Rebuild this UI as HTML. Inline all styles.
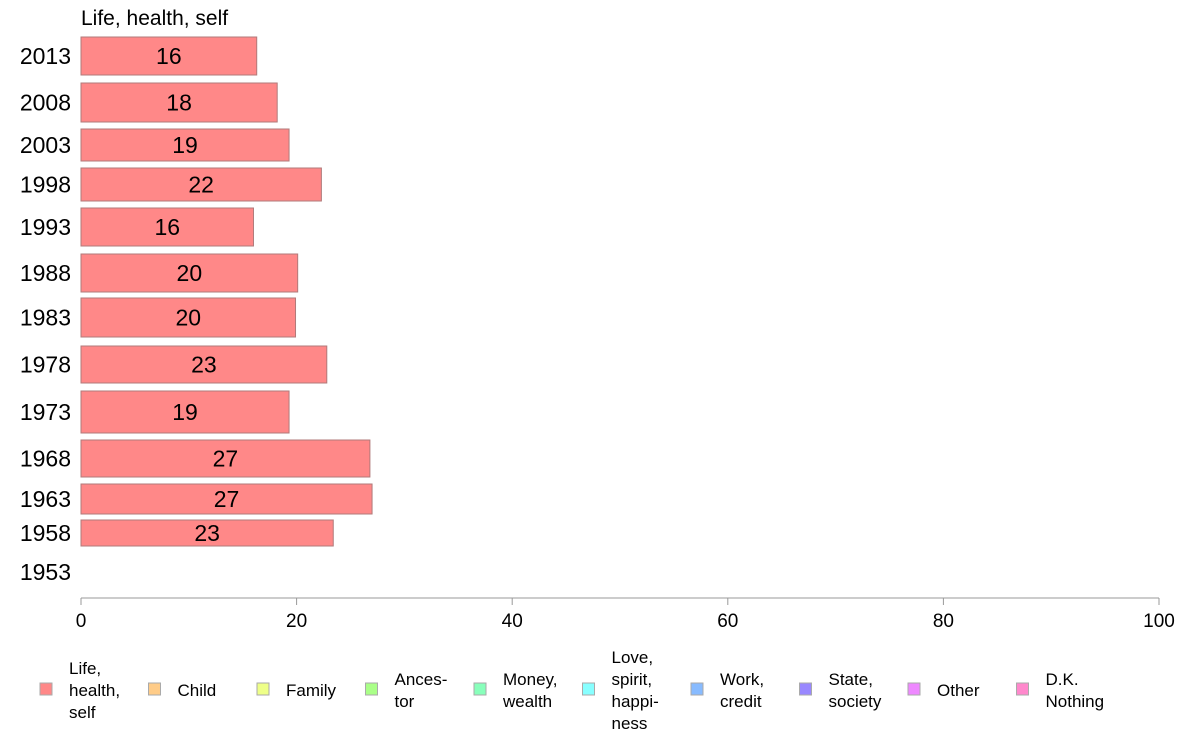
<!DOCTYPE html>
<html><head><meta charset="utf-8"><style>
body{margin:0;background:#fff}
svg{display:block;font-family:"Liberation Sans",sans-serif}
</style></head><body>
<svg id="chart" width="1188" height="736"></svg>
<script>
const years=["2013","2008","2003","1998","1993","1988","1983","1978","1973","1968","1963","1958","1953"];
const values=[16.3,18.2,19.3,22.3,16.0,20.1,19.9,22.8,19.3,26.8,27.0,23.4,null];
const printed=["16","18","19","22","16","20","20","23","19","27","27","23",""];
const xTicks=[0,20,40,60,80,100];
const legendLabels=[["Life,","health,","self"],["Child"],["Family"],["Ances-","tor"],["Money,","wealth"],["Love,","spirit,","happi-","ness"],["Work,","credit"],["State,","society"],["Other"],["D.K.","Nothing"]];
const legendColors=["#ff8888","#ffcc88","#eeff88","#aaff88","#88ffbb","#88ffff","#88bbff","#9988ff","#ee88ff","#ff88cc"];
// band layout (top, bottom) per row in pixels
const bandTop=[37,83,129,168,208,254,298,346,391,440,484,520,560];
const bandBot=[75,122,161,201,246,292,337,383,433,477,514,546,584];

const svg=document.getElementById('chart');
const NS='http://www.w3.org/2000/svg';
const x0=81,x1=1159;
const xs=v=>x0+(v/100)*(x1-x0);
function mk(t,a,txt){const e=document.createElementNS(NS,t);for(const k in a)e.setAttribute(k,a[k]);if(txt!=null)e.textContent=txt;svg.appendChild(e);return e;}

let t=mk('text',{x:81,y:25,'font-size':21,fill:'#000'},'Life, health, self');



years.forEach((y,i)=>{
  const cy=(bandTop[i]+bandBot[i])/2;
  let l=mk('text',{x:71,y:cy+8,'font-size':23,'text-anchor':'end',fill:'#000'},y);
  
  
  if(values[i]!=null){
    let r=mk('rect',{x:x0,y:bandTop[i],width:xs(values[i])-x0,height:bandBot[i]-bandTop[i],fill:'#ff8888',stroke:'#b07a7a','stroke-width':1});
    
    
    let v=mk('text',{x:(x0+xs(values[i]))/2,y:cy+8,'font-size':23,'text-anchor':'middle',fill:'#000'},printed[i]);
    
    
  }
});

let ax=mk('line',{x1:x0,y1:598,x2:x1,y2:598,stroke:'#999','stroke-width':1});


xTicks.forEach(v=>{
  let tk=mk('line',{x1:xs(v),y1:598,x2:xs(v),y2:605,stroke:'#999'});
  
  
  let tl=mk('text',{x:xs(v),y:627,'font-size':19,'text-anchor':'middle',fill:'#000'},String(v));
  
  
});

legendLabels.forEach((lines,i)=>{
  const sx=40+i*108.5;
  let s=mk('rect',{x:sx,y:683,width:12,height:12,fill:legendColors[i],stroke:'#aaa','stroke-width':1});
  
  
  const lh=22,start=690-(lines.length-1)*lh/2+6;
  lines.forEach((ln,j)=>{
    let lt=mk('text',{x:sx+29,y:start+j*lh,'font-size':17,fill:'#000'},ln);
    
    
  });
});
</script>
</body></html>
